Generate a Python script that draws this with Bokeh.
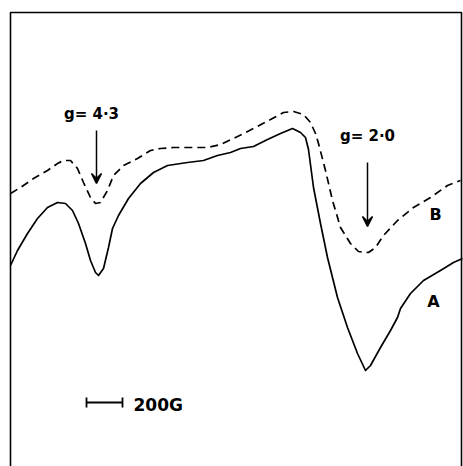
from bokeh.plotting import figure
from bokeh.models import Range1d, Arrow, VeeHead, TeeHead
from bokeh.core.properties import value
from bokeh.embed import file_html
from bokeh.resources import INLINE

# Curve A (solid): field position vs. derivative signal (screen-down = lower)
a_x = [10, 17, 27, 37, 47, 57, 65, 72, 78, 85, 90, 95, 98, 103, 108, 112, 118, 128, 140, 153, 167, 187, 203, 217, 230, 240, 253, 267, 280, 292, 300, 305, 308, 313, 320, 327, 337, 347, 357, 365, 370, 380, 390, 397, 400, 410, 423, 440, 453, 462]
a_y = [265, 250, 233, 218, 207, 202, 203, 210, 223, 243, 260, 272, 275, 268, 247, 228, 215, 198, 183, 172, 165, 162, 160, 155, 152, 148, 146, 139, 133, 128, 132, 137, 149, 187, 223, 257, 297, 327, 353, 370, 365, 347, 330, 317, 308, 293, 280, 270, 262, 258]

# Curve B (dashed)
b_x = [10, 20, 33, 47, 57, 63, 70, 77, 83, 90, 95, 100, 107, 113, 123, 137, 150, 160, 173, 207, 220, 237, 253, 270, 283, 293, 303, 310, 315, 318, 325, 332, 340, 350, 358, 368, 375, 383, 397, 413, 430, 447, 460]
b_y = [193, 187, 178, 170, 163, 160, 160, 168, 182, 197, 203, 202, 190, 175, 165, 158, 150, 148, 147, 147, 144, 136, 128, 119, 112, 111, 114, 122, 133, 143, 170, 200, 227, 243, 251, 252, 247, 235, 220, 207, 197, 185, 180]

labels = ["g= 4\u00b73", "g= 2\u00b70"]
label_x = [91, 367]
label_y = [113, 135]
arrow_x = [96, 367]
arrow_top = [130, 162]
arrow_bot = [183, 226]

curve_names = ["A", "B"]
curve_name_x = [433, 435]
curve_name_y = [301, 214]

scale_x = [86, 122]
scale_y = 402
scale_label = "200G"

p = figure(width=463, height=466, output_backend="svg", toolbar_location=None,
           x_range=Range1d(0, 463), y_range=Range1d(466, 0),
           min_border=0, min_border_left=0, min_border_right=0,
           min_border_top=0, min_border_bottom=0)
p.axis.visible = False
p.grid.visible = False
p.outline_line_color = None
p.background_fill_color = "white"

# frame
p.line([10, 10, 461, 461], [470, 12, 12, 470], line_color="black", line_width=1.6)

# curves
p.line(a_x, a_y, line_color="black", line_width=1.7, line_join="round")
p.line(b_x, b_y, line_color="black", line_width=1.7, line_dash="8 5")

# arrows
for xa, yt, yb in zip(arrow_x, arrow_top, arrow_bot):
    p.add_layout(Arrow(x_start=xa, y_start=yt, x_end=xa, y_end=yb,
                       line_width=1.5, line_color="black",
                       end=VeeHead(size=10, line_color="black", fill_color="black", line_width=1.5)))

p.text(x=label_x, y=label_y, text=labels, text_font=value("DejaVu Sans"),
       text_font_size="15px", text_font_style="bold", text_align="center",
       text_baseline="middle", text_color="black")

p.text(x=curve_name_x, y=curve_name_y, text=curve_names, text_font=value("DejaVu Sans"),
       text_font_size="16px", text_font_style="bold", text_align="center",
       text_baseline="middle", text_color="black")

# scale bar
p.add_layout(Arrow(x_start=scale_x[0], y_start=scale_y, x_end=scale_x[1], y_end=scale_y,
                   line_width=1.8, line_color="black",
                   start=TeeHead(size=10, line_width=1.8), end=TeeHead(size=10, line_width=1.8)))
p.text(x=[scale_x[1] + 11], y=[scale_y + 2], text=[scale_label], text_font=value("DejaVu Sans"),
       text_font_size="17px", text_font_style="bold", text_align="left",
       text_baseline="middle", text_color="black")

open("out.html", "w").write(file_html(p, INLINE))
